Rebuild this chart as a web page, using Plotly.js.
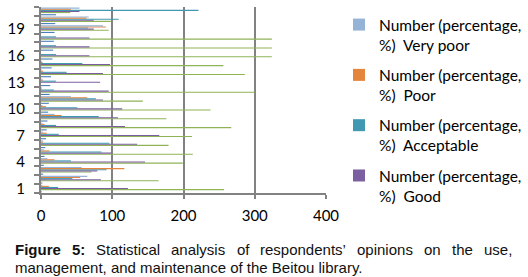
<!DOCTYPE html>
<html>
<head>
<meta charset="utf-8">
<script src="https://cdn.plot.ly/plotly-3.0.1.min.js"></script>
<style>
  html, body { margin: 0; padding: 0; background: #fff; }
  #chart { width: 528px; height: 277px; }
</style>
</head>
<body>
<div id="chart"></div>
<script>
// Categories (item numbers) on the vertical axis
const categories = [1,2,3,4,5,6,7,8,9,10,11,12,13,14,15,16,17,18,19,20,21];
const yTickLabels = [1,4,7,10,13,16,19];
const xTickLabels = [0,100,200,300,400];

// Series values (category 1 .. 21)
const veryPoor   = [2, 65, 57, 9, 4, 3, 3, 2, 19, 2, 42, 1, 1, 1, 1, 0, 0, 0, 87, 67, 54];
const poor       = [11, 55, 117, 19, 12, 3, 8, 5, 29, 7, 65, 1, 3, 3, 2, 0, 0, 0, 91, 64, 42];
const acceptable = [24, 44, 92, 42, 85, 96, 25, 21, 81, 51, 77, 18, 21, 36, 58, 21, 21, 21, 66, 109, 221];
const good       = [122, 84, 79, 146, 99, 135, 166, 118, 108, 114, 87, 95, 83, 87, 97, 68, 68, 68, 74, 74, 54];
const veryGood   = [257, 165, 71, 199, 213, 179, 212, 267, 176, 238, 143, 300, 0, 286, 256, 324, 324, 324, 95, 98, 41];
const emptySeries = [0,0,0,0,0,0,0,0,0,0,0,0,0,0,0,0,0,0,0,0,0];
const itemNumber = [1, 2, 3, 4, 5, 6, 7, 8, 9, 10, 11, 12, 13, 14, 15, 16, 17, 18, 19, 20, 21];

const seriesNames = [
  'Number (percentage,<br>%)  Very poor',
  'Number (percentage,<br>%)  Poor',
  'Number (percentage,<br>%)  Acceptable',
  'Number (percentage,<br>%)  Good',
  'Number (percentage,<br>%)  Very good',
  'Series 2',
  'No.'
];

function barTrace(values, name, color, showLegend, rank) {
  return {
    type: 'bar', orientation: 'h',
    x: values, y: categories,
    name: name, legendgroup: 'g' + rank, legendrank: rank, showlegend: showLegend,
    marker: { color: color, line: { width: 0 } },
    hoverinfo: 'x+name'
  };
}

// Plotly draws the first trace at the bottom of each group
const data = [
  barTrace(itemNumber, seriesNames[6], '#4A7EBB', false, 7),
  barTrace(emptySeries, seriesNames[5], '#C0504D', false, 6),
  barTrace(veryGood, seriesNames[4], '#8FB356', false, 5),
  barTrace(good, seriesNames[3], '#7B5FA0', true, 4),
  barTrace(acceptable, seriesNames[2], '#4199B1', true, 3),
  barTrace(poor, seriesNames[1], '#E3853C', true, 2),
  barTrace(veryPoor, seriesNames[0], '#95B3D7', true, 1)
];

const boundaries = categories.map(c => c - 0.5).concat([categories[categories.length - 1] + 0.5]);

const W = 528, H = 277;
const mL = 41, mR = 202, mT = 7, mB = 84;
const pw = W - mL - mR, ph = H - mT - mB;
const px = x => (x - mL) / pw;
const py = y => (H - mB - y) / ph;

// Caption, first line justified between x=15 and x=512
const capFamily = '"Liberation Sans", Arial, sans-serif';
const capSize = 15;
const captionFont = { family: capFamily, size: capSize, color: '#111' };
const line1 = [
  ['Figure', true], ['5:', true], ['Statistical', false], ['analysis', false],
  ['of', false], ['respondents’', false], ['opinions', false], ['on', false], ['the', false], ['use,', false]
];
const ctx = document.createElement('canvas').getContext('2d');
const widths = line1.map(w => {
  ctx.font = (w[1] ? 'bold ' : '') + capSize + 'px ' + capFamily;
  return ctx.measureText(w[0]).width;
});
const left = 15, right = 512;
const gap = (right - left - widths.reduce((a, b) => a + b, 0)) / (line1.length - 1);
let cursor = left;
const annotations = [];
line1.forEach((w, i) => {
  annotations.push({
    xref: 'paper', yref: 'paper', x: px(cursor), y: py(249),
    xanchor: 'left', yanchor: 'middle', showarrow: false,
    borderpad: 0, borderwidth: 0,
    text: w[1] ? '<b>' + w[0] + '</b>' : w[0], font: captionFont
  });
  cursor += widths[i] + gap;
});
annotations.push({
  xref: 'paper', yref: 'paper', x: px(15), y: py(267),
  xanchor: 'left', yanchor: 'middle', showarrow: false,
  borderpad: 0, borderwidth: 0,
  text: 'management, and maintenance of the Beitou library.', font: captionFont
});

const layout = {
  width: W, height: H,
  margin: { l: mL, r: mR, t: mT, b: mB, pad: 0, autoexpand: false },
  paper_bgcolor: '#fff', plot_bgcolor: '#fff',
  barmode: 'group', bargap: 0.13, bargroupgap: 0,
  font: { family: 'Lato, Carlito, sans-serif', size: 15, color: '#000' },
  xaxis: {
    range: [0, 400], tickmode: 'array', tickvals: xTickLabels,
    showgrid: true, gridcolor: '#828282', gridwidth: 2,
    zeroline: false, showline: true, linecolor: '#828282', linewidth: 2,
    ticks: 'outside', ticklen: 4, tickcolor: '#828282', tickwidth: 2,
    ticklabelstandoff: 4,
    tickfont: { family: 'Lato, Carlito, sans-serif', size: 15, color: '#000' },
    fixedrange: true
  },
  yaxis: {
    range: [0.5, 21.5], tickmode: 'array', tickvals: yTickLabels,
    ticks: '', showgrid: false, zeroline: false,
    showline: true, linecolor: '#828282', linewidth: 2,
    ticklabelstandoff: 11,
    tickfont: { family: 'Lato, Carlito, sans-serif', size: 15, color: '#000' },
    minor: { tickmode: 'array', tickvals: boundaries, ticks: 'outside', ticklen: 5,
             tickcolor: '#828282', tickwidth: 2, showgrid: false },
    fixedrange: true
  },
  showlegend: true,
  legend: {
    x: px(339), y: py(8), xanchor: 'left', yanchor: 'top',
    traceorder: 'grouped', tracegroupgap: 7, valign: 'top', maxheight: 270,
    font: { family: 'Lato, Carlito, sans-serif', size: 15.5, color: '#000' },
    bgcolor: 'rgba(0,0,0,0)', borderwidth: 0
  },
  annotations: annotations
};

Plotly.newPlot('chart', data, layout, { displayModeBar: false, staticPlot: true });
</script>
</body>
</html>
